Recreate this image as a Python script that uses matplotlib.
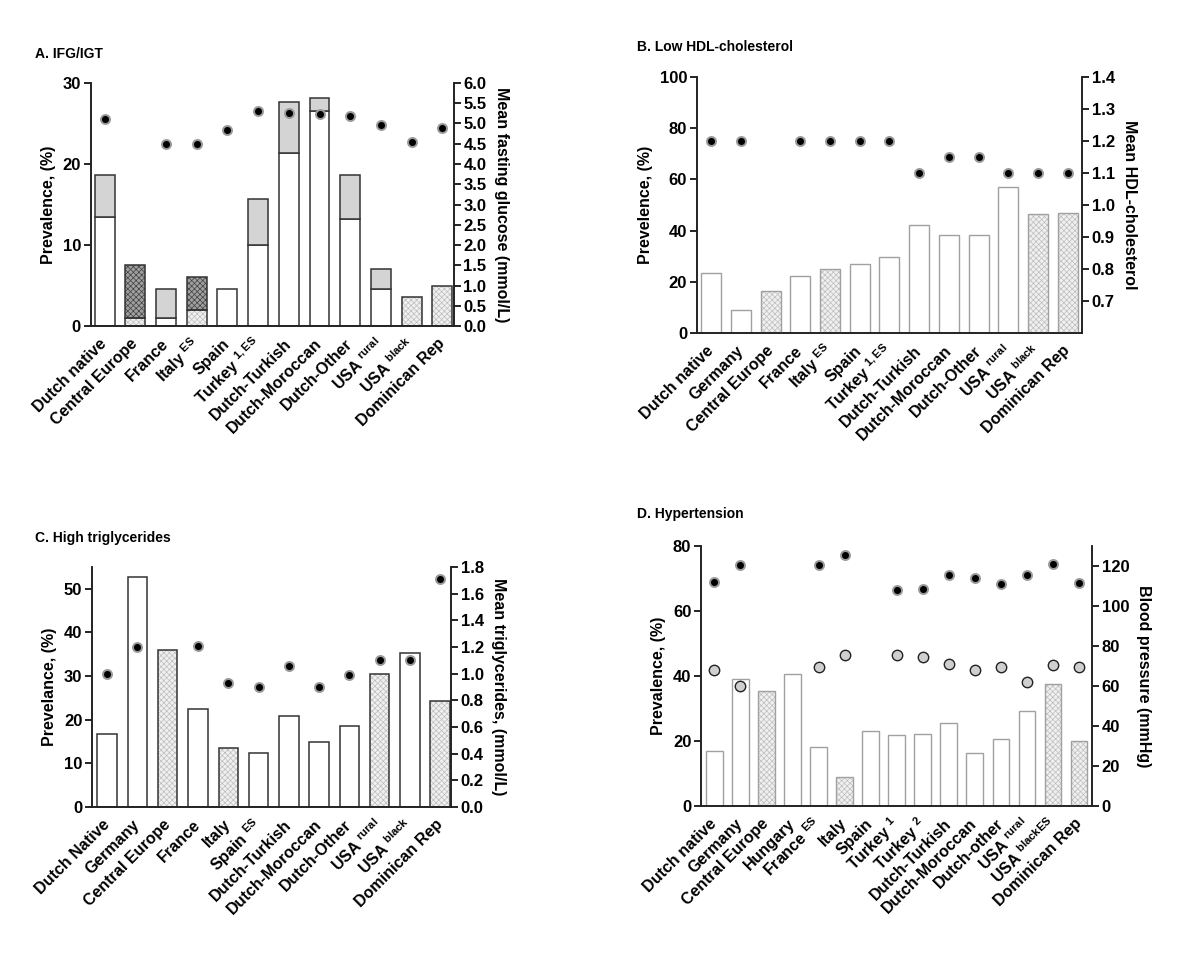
import numpy as np
import matplotlib.pyplot as plt

plt.rcParams['font.family'] = ['Liberation Sans', 'DejaVu Sans']
plt.rcParams['font.weight'] = 'bold'
plt.rcParams['mathtext.fontset'] = 'custom'
plt.rcParams['mathtext.rm'] = 'Liberation Sans'
plt.rcParams['hatch.linewidth'] = 0.5

# A. IFG/IGT
a_labels = ['Dutch native', 'Central Europe', 'France', r'Italy $^{\mathrm{ES}}$', 'Spain',
            r'Turkey $^{\mathrm{1,ES}}$', 'Dutch-Turkish', 'Dutch-Moroccan', 'Dutch-Other',
            r'USA $^{\mathrm{rural}}$', r'USA $^{\mathrm{black}}$', 'Dominican Rep']
a_ifg = [13.4, 1.0, 1.0, 2.0, 4.6, 10.0, 21.4, 26.5, 13.2, 4.6, 3.6, 5.0]
a_total = [18.7, 7.5, 4.6, 6.1, 4.6, 15.7, 27.7, 28.2, 18.6, 7.0, 3.6, 5.0]
a_glucose = [5.10, np.nan, 4.50, 4.50, 4.83, 5.31, 5.26, 5.24, 5.19, 4.97, 4.55, 4.89]
a_selfrep = [0, 1, 0, 1, 0, 0, 0, 0, 0, 0, 1, 1]

# B. Low HDL-cholesterol
b_labels = ['Dutch native', 'Germany', 'Central Europe', 'France', r'Italy $^{\mathrm{ES}}$', 'Spain',
            r'Turkey $^{\mathrm{1,ES}}$', 'Dutch-Turkish', 'Dutch-Moroccan', 'Dutch-Other',
            r'USA $^{\mathrm{rural}}$', r'USA $^{\mathrm{black}}$', 'Dominican Rep']
b_prev = [23.3, 8.9, 16.3, 22.1, 25.0, 27.0, 29.7, 42.3, 38.2, 38.2, 57.0, 46.6, 47.0]
b_hdl = [1.2, 1.2, np.nan, 1.2, 1.2, 1.2, 1.2, 1.1, 1.15, 1.15, 1.1, 1.1, 1.1]
b_selfrep = [0, 0, 1, 0, 1, 0, 0, 0, 0, 0, 0, 1, 1]

# C. High triglycerides
c_labels = ['Dutch Native', 'Germany', 'Central Europe', 'France', 'Italy', r'Spain $^{\mathrm{ES}}$',
            'Dutch-Turkish', 'Dutch-Moroccan', 'Dutch-Other', r'USA $^{\mathrm{rural}}$',
            r'USA $^{\mathrm{black}}$', 'Dominican Rep']
c_prev = [16.7, 52.7, 35.9, 22.4, 13.5, 12.3, 20.8, 14.8, 18.6, 30.5, 35.3, 24.4]
c_tg = [1.00, 1.20, np.nan, 1.21, 0.93, 0.90, 1.06, 0.90, 0.99, 1.10, 1.10, 1.71]
c_selfrep = [0, 0, 1, 0, 1, 0, 0, 0, 0, 1, 0, 1]

# D. Hypertension
d_labels = ['Dutch native', 'Germany', 'Central Europe', 'Hungary', r'France $^{\mathrm{ES}}$', 'Italy',
            'Spain', r'Turkey $^{1}$', r'Turkey $^{2}$', 'Dutch-Turkish', 'Dutch-Moroccan',
            'Dutch-other', r'USA $^{\mathrm{rural}}$', r'USA $^{\mathrm{blackES}}$', 'Dominican Rep']
d_prev = [16.8, 39.0, 35.4, 40.6, 18.2, 8.8, 23.1, 21.8, 22.3, 25.4, 16.3, 20.7, 29.1, 37.5, 20.1]
d_sbp = [112.1, 120.5, np.nan, np.nan, 120.5, 125.7, np.nan, 108.2, 108.7, 115.3, 114.1,
         110.9, 115.3, 121.2, 111.3]
d_dbp = [68.2, 59.8, np.nan, np.nan, 69.6, 75.5, np.nan, 75.3, 74.3, 70.9, 68.2,
         69.6, 61.8, 70.3, 69.6]
d_selfrep = [0, 0, 1, 0, 0, 1, 0, 0, 0, 0, 0, 0, 0, 1, 1]


def draw_bars(ax, x, h, bottom, hatched, face, edge, lw, width,
              hface='#f0f0f0', hcol='#bdbdbd'):
    h = np.asarray(h, float)
    bottom = np.asarray(bottom, float)
    hatched = np.asarray(hatched, bool)
    ax.bar(x[~hatched], h[~hatched], width, bottom=bottom[~hatched],
           color=face, edgecolor=edge, lw=lw, zorder=2)
    ax.bar(x[hatched], h[hatched], width, bottom=bottom[hatched],
           color=hface, edgecolor=hcol, hatch='xxxxxx', lw=0, zorder=2)
    ax.bar(x[hatched], h[hatched], width, bottom=bottom[hatched],
           fill=False, edgecolor=edge, lw=lw, zorder=3)


def style(ax, ax2, labels, xlim, left_lab, right_lab):
    ax.set_xlim(*xlim)
    ax.set_xticks(np.arange(len(labels)))
    ax.set_xticklabels(labels, rotation=45, ha='right', va='center',
                       rotation_mode='anchor', fontsize=11.5, fontweight='bold')
    ax.tick_params(axis='x', length=0, pad=11)
    ax.tick_params(axis='y', length=5, width=1.2, labelsize=12, pad=2)
    ax2.tick_params(axis='y', length=5, width=1.2, labelsize=12, pad=2)
    for a in (ax, ax2):
        a.spines['top'].set_visible(False)
        for s in ('left', 'right', 'bottom'):
            a.spines[s].set_linewidth(1.2)
            a.spines[s].set_color('#222222')
    ax.set_ylabel(left_lab, fontsize=11.5, fontweight='bold', labelpad=5)
    ax2.set_ylabel(right_lab, fontsize=11.5, fontweight='bold', rotation=270,
                   va='bottom', labelpad=5)


def dots(ax2, x, y):
    ax2.plot(x, y, 'o', ms=6.5, color='black', mec='#9a9a9a', mew=1.4, zorder=4)


fig = plt.figure(figsize=(12, 9.55), dpi=100)

# ---- A
axA = fig.add_axes([0.0756, 0.6586, 0.3025, 0.2545])
xA = np.arange(len(a_labels))
selA = np.array(a_selfrep, bool)
draw_bars(axA, xA, a_ifg, np.zeros(len(xA)), selA, 'white', '#333333', 1.1, 0.65)
top = np.array(a_total) - np.array(a_ifg)
has_top = top > 0
# measured: gray top segment, self-reported: dark checker top segment
axA.bar(xA[has_top & ~selA], top[has_top & ~selA], 0.65,
        bottom=np.array(a_ifg)[has_top & ~selA], color='#d4d4d4', edgecolor='#333333', lw=1.1, zorder=2)
m = has_top & selA
axA.bar(xA[m], top[m], 0.65, bottom=np.array(a_ifg)[m], color='#a0a0a0',
        edgecolor='#404040', hatch='xxxxxx', lw=0, zorder=2)
axA.bar(xA[m], top[m], 0.65, bottom=np.array(a_ifg)[m], fill=False,
        edgecolor='#333333', lw=1.1, zorder=3)
axA.set_ylim(0, 30)
axA.set_yticks([0, 10, 20, 30])
axA2 = axA.twinx()
dots(axA2, xA, a_glucose)
axA2.set_ylim(0, 6)
axA2.set_yticks(np.arange(0, 6.01, 0.5))
axA2.set_yticklabels(['%.1f' % v for v in np.arange(0, 6.01, 0.5)])
style(axA, axA2, a_labels, (-0.45, 11.37), 'Prevalence, (%)', 'Mean fasting glucose (mmol/L)')

# ---- B
axB = fig.add_axes([0.5808, 0.6513, 0.3208, 0.268])
xB = np.arange(len(b_labels))
draw_bars(axB, xB, b_prev, np.zeros(len(xB)), b_selfrep, 'white', '#a0a0a0', 1.0, 0.67)
axB.set_ylim(0, 100)
axB.set_yticks(np.arange(0, 101, 20))
axB2 = axB.twinx()
dots(axB2, xB, b_hdl)
axB2.set_ylim(0.6, 1.4)
axB2.set_yticks(np.arange(0.7, 1.41, 0.1))
axB2.set_yticklabels(['%.1f' % v for v in np.arange(0.7, 1.41, 0.1)])
style(axB, axB2, b_labels, (-0.48, 12.48), 'Prevelence, (%)', 'Mean HDL-cholesterol')

# ---- C
axC = fig.add_axes([0.0767, 0.155, 0.2992, 0.2513])
xC = np.arange(len(c_labels))
draw_bars(axC, xC, c_prev, np.zeros(len(xC)), c_selfrep, 'white', '#333333', 1.1, 0.64)
axC.set_ylim(0, 55)
axC.set_yticks(np.arange(0, 51, 10))
axC2 = axC.twinx()
dots(axC2, xC, c_tg)
axC2.set_ylim(0, 1.8)
axC2.set_yticks(np.arange(0, 1.81, 0.2))
axC2.set_yticklabels(['%.1f' % v for v in np.arange(0, 1.81, 0.2)])
style(axC, axC2, c_labels, (-0.5, 11.36), 'Prevelance, (%)', 'Mean triglycerides, (mmol/L)')

# ---- D
axD = fig.add_axes([0.5842, 0.156, 0.3258, 0.2723])
xD = np.arange(len(d_labels))
draw_bars(axD, xD, d_prev, np.zeros(len(xD)), d_selfrep, 'white', '#a0a0a0', 1.0, 0.64)
axD.set_ylim(0, 80)
axD.set_yticks(np.arange(0, 81, 20))
axD2 = axD.twinx()
dots(axD2, xD, d_sbp)
axD2.plot(xD, d_dbp, 'o', ms=7.5, color='#cfcfcf', mec='#222222', mew=1.0, zorder=4)
axD2.set_ylim(0, 130)
axD2.set_yticks(np.arange(0, 121, 20))
style(axD, axD2, d_labels, (-0.51, 14.5), 'Prevalence, (%)', 'Blood pressure (mmHg)')

fig.text(35 / 1200, 1 - 54 / 955, 'A. IFG/IGT', fontsize=10, fontweight='bold', va='center')
fig.text(637 / 1200, 1 - 47 / 955, 'B. Low HDL-cholesterol', fontsize=10, fontweight='bold', va='center')
fig.text(35 / 1200, 1 - 538 / 955, 'C. High triglycerides', fontsize=10, fontweight='bold', va='center')
fig.text(637 / 1200, 1 - 514 / 955, 'D. Hypertension', fontsize=10, fontweight='bold', va='center')

fig.savefig('out.png', dpi=100)
